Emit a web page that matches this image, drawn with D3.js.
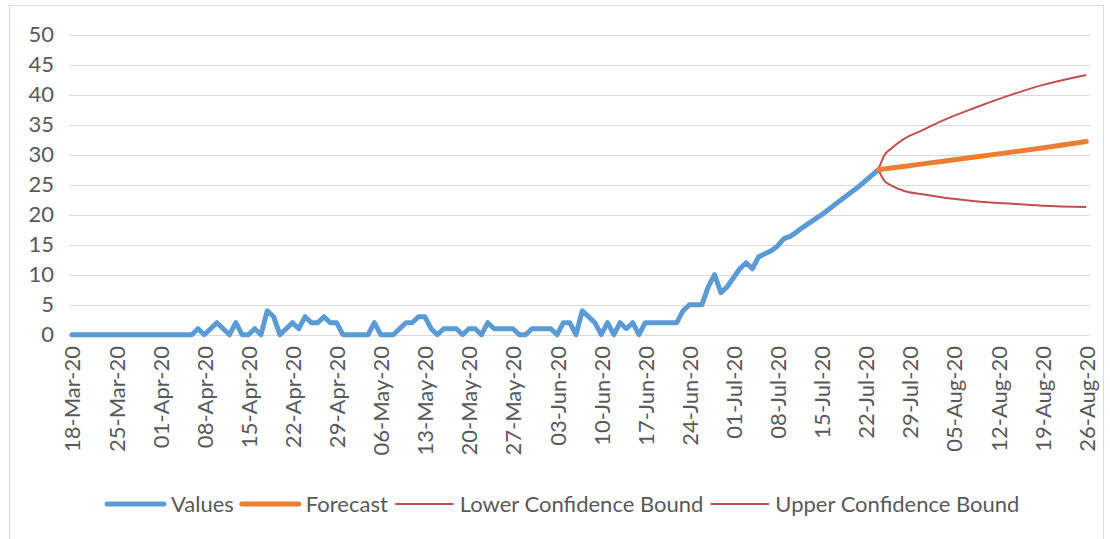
<!DOCTYPE html>
<html>
<head>
<meta charset="utf-8">
<script src="https://cdn.jsdelivr.net/npm/d3@7"></script>
<style>
  body { margin: 0; background: #fff; }
  svg { display: block; font-family: Lato, "Open Sans", sans-serif; }
</style>
</head>
<body>
<svg width="1110" height="539"></svg>
<script>
// daily values from 18-Mar-20
const startDate = new Date(2020, 2, 18)
const endDate = new Date(2020, 7, 26)
const values = [
  0,0,0,0,0,0,0,0,0,0, 0,0,0,0,0,0,0,0,0,0,
  1,0,1,2,1,0,2,0,0,1, 0,4,3,0,1,2,1,3,2,2,
  3,2,2,0,0,0,0,0,2,0, 0,0,1,2,2,3,3,1,0,1,
  1,1,0,1,1,0,2,1,1,1, 1,0,0,1,1,1,1,0,2,2,
  0,4,3,2,0,2,0,2,1,2, 0,2,2,2,2,2,2,4,5,5,
  5,8,10,7,8,9.5,11,12,11,13, 13.5,14,14.8,16,16.4,17.1,17.9,18.6,19.3,20,
  20.8,21.6,22.4,23.2,24,24.8,25.7,26.6,27.5
]

// forecast + bounds, read at these days after 18-Mar-20
const fcDays  = [128, 129, 130, 132, 135, 138, 143, 148, 154, 161]
const forecast = [27.5, 27.64, 27.78, 28.05, 28.47, 28.88, 29.57, 30.26, 31.1, 32.2]
const lowerBound = [27.5, 25.6, 24.9, 24.0, 23.4, 22.9, 22.3, 21.9, 21.5, 21.3]
const upperBound = [27.5, 30.0, 31.0, 32.6, 34.1, 35.6, 37.7, 39.6, 41.6, 43.3]

const yTicks = d3.range(0, 51, 5)

const legendItems = [
  { name: 'Values', color: '#5B9BD5', width: 5 },
  { name: 'Forecast', color: '#ED7D31', width: 5 },
  { name: 'Lower Confidence Bound', color: '#C0504D', width: 2 },
  { name: 'Upper Confidence Bound', color: '#C0504D', width: 2 }
]

const svg = d3.select('svg')
const textColor = '#595959'
const fontSize = '22px'

// frame
svg.append('rect')
  .attr('x', 9.5).attr('y', 5.5)
  .attr('width', 1094).attr('height', 540)
  .attr('fill', 'none')
  .attr('stroke', '#D9D9D9')

const dayOf = i => d3.timeDay.offset(startDate, i)

const x = d3.scaleTime()
  .domain([startDate, endDate])
  .range([72, 1086.3])

const y = d3.scaleLinear()
  .domain([0, 50])
  .range([334.7, 34.7])

const plotLeft = 69, plotRight = 1090

// gridlines
svg.append('g')
  .selectAll('line')
  .data(yTicks)
  .enter().append('line')
    .attr('x1', plotLeft).attr('x2', plotRight)
    .attr('y1', d => Math.round(y(d)) + 0.5)
    .attr('y2', d => Math.round(y(d)) + 0.5)
    .attr('stroke', '#D9D9D9')
    .attr('stroke-width', 1)

// y axis labels
const yAxis = svg.append('g')
  .attr('transform', 'translate(54,0)')
  .call(d3.axisLeft(y).tickValues(yTicks).tickSize(0).tickPadding(0))
yAxis.select('.domain').remove()
yAxis.selectAll('text')
  .attr('fill', textColor)
  .style('font-size', fontSize)
  .style('font-family', 'Lato, sans-serif')

// x axis labels
const xTicks = d3.timeWednesday.range(startDate, d3.timeDay.offset(endDate, 1))
const xAxis = svg.append('g')
  .attr('transform', 'translate(0,346)')
  .call(d3.axisBottom(x).tickValues(xTicks).tickSize(0).tickFormat(d3.timeFormat('%d-%b-%y')))
xAxis.select('.domain').remove()
xAxis.selectAll('text')
  .attr('fill', textColor)
  .style('font-size', fontSize)
  .style('font-family', 'Lato, sans-serif')
  .attr('text-anchor', 'end')
  .attr('transform', 'rotate(-90)')
  .attr('x', 0)
  .attr('y', 0)
  .attr('dy', '0.36em')

// series
const line = d3.line()
  .x(d => x(d.date))
  .y(d => y(d.v))

const valuesData = values.map((v, i) => ({ date: dayOf(i), v }))
const fcData = fcDays.map((d, i) => ({ date: dayOf(d), v: forecast[i] }))
const loData = fcDays.map((d, i) => ({ date: dayOf(d), v: lowerBound[i] }))
const upData = fcDays.map((d, i) => ({ date: dayOf(d), v: upperBound[i] }))

const curvy = d3.line()
  .x(d => x(d.date))
  .y(d => y(d.v))
  .curve(d3.curveMonotoneX)

svg.append('path').datum(loData)
  .attr('d', curvy)
  .attr('fill', 'none').attr('stroke', '#C0504D').attr('stroke-width', 2)
svg.append('path').datum(upData)
  .attr('d', curvy)
  .attr('fill', 'none').attr('stroke', '#C0504D').attr('stroke-width', 2)

svg.append('path').datum(valuesData)
  .attr('d', line)
  .attr('fill', 'none').attr('stroke', '#5B9BD5')
  .attr('stroke-width', 5).attr('stroke-linejoin', 'round').attr('stroke-linecap', 'round')

svg.append('path').datum(fcData)
  .attr('d', line)
  .attr('fill', 'none').attr('stroke', '#ED7D31')
  .attr('stroke-width', 5).attr('stroke-linejoin', 'round').attr('stroke-linecap', 'round')

// legend
const legend = svg.append('g').attr('transform', 'translate(0,504)')
let lx = 107
legendItems.forEach(item => {
  legend.append('line')
    .attr('x1', lx).attr('x2', lx + 57)
    .attr('stroke', item.color)
    .attr('stroke-width', item.width)
    .attr('stroke-linecap', 'round')
  const t = legend.append('text')
    .attr('x', lx + 64)
    .attr('dy', '0.35em')
    .attr('fill', textColor)
    .style('font-size', fontSize)
    .style('font-family', 'Lato, sans-serif')
    .text(item.name)
  lx += 64 + t.node().getComputedTextLength() + 8
})
</script>
</body>
</html>
